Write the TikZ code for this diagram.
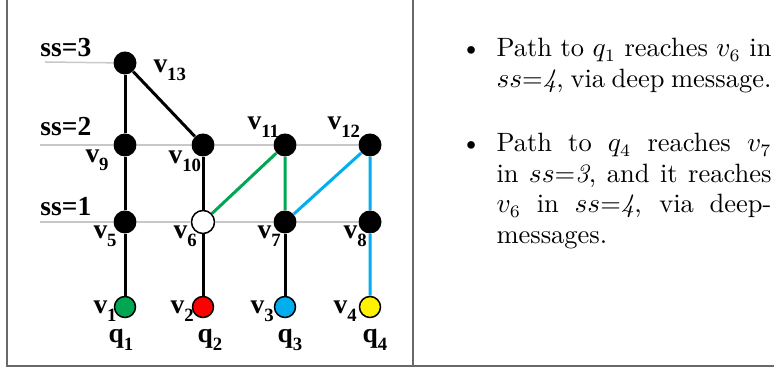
\documentclass[tikz,border=0pt]{standalone}
\usepackage{fontspec}
\newfontfamily\graphfont{Liberation Serif}
\definecolor{qgreen}{RGB}{0,166,81}
\definecolor{qred}{RGB}{255,0,0}
\definecolor{qcyan}{RGB}{0,174,239}
\definecolor{qyellow}{RGB}{255,242,0}
\definecolor{framegray}{RGB}{105,105,105}
\definecolor{levelgray}{RGB}{200,200,200}
\newcommand{\vsub}[2]{#1\raisebox{-3.2pt}{\fontsize{7.5}{8}\selectfont #2}}
\tikzset{
  vert/.style={circle, fill=black, inner sep=0pt, minimum size=9.2pt},
  leaf/.style={circle, draw=black, line width=0.6pt, inner sep=0pt, minimum size=8.4pt},
  lab/.style={inner sep=0pt, anchor=base west, font=\graphfont\bfseries\fontsize{11}{12}\selectfont},
  edge/.style={line width=1.2pt},
  level/.style={line width=0.6pt, levelgray},
  frame/.style={line width=0.8pt, framegray},
  itemtext/.style={inner sep=0pt, anchor=base west, text width=110pt, align=justify,
    font=\fontsize{10.6}{12.2}\selectfont}
}
\begin{document}
\begin{tikzpicture}[x=0.4pt,y=-0.4pt]
\useasboundingbox (0,0) rectangle (774,370);
% frame
\draw[frame] (7,0) -- (7,366) -- (774,366);
\draw[frame] (413,0) -- (413,366);

% vertices
\node[vert] (v13) at (125,63) {};
\node[vert] (v9)  at (125,145) {};
\node[vert] (v10) at (203,145) {};
\node[vert] (v11) at (285,145) {};
\node[vert] (v12) at (370,145) {};
\node[vert] (v5)  at (125,222) {};
\node[leaf, fill=white, minimum size=9.2pt] (v6) at (203,222) {};
\node[vert] (v7)  at (285,222) {};
\node[vert] (v8)  at (370,222) {};
\node[leaf, fill=qgreen]  (v1) at (125,307) {};
\node[leaf, fill=qred]    (v2) at (203,307) {};
\node[leaf, fill=qcyan]   (v3) at (285,307) {};
\node[leaf, fill=qyellow] (v4) at (370,307) {};

% levels
\coordinate (s3) at (45,62);
\coordinate (s2) at (40,145);
\coordinate (s1) at (40,222);
\draw[level] (s3) -- (v13);
\draw[level] (s2) -- (v9) -- (v10) -- (v11) -- (v12);
\draw[level] (s1) -- (v5) -- (v6) -- (v7) -- (v8);
\node[lab] (ss3) at (40,57) {ss=3};
\node[lab] (ss2) at (40,136) {ss=2};
\node[lab] (ss1) at (40,216) {ss=1};

% edges
\draw[edge] (v13) -- (v9);
\draw[edge] (v13) -- (v10);
\draw[edge] (v9) -- (v5);
\draw[edge] (v10) -- (v6);
\draw[edge] (v5) -- (v1);
\draw[edge] (v6) -- (v2);
\draw[edge] (v7) -- (v3);
\draw[edge, qgreen] (v6) -- (v11) -- (v7);
\draw[edge, qcyan] (v7) -- (v12) -- (v8) -- (v4);

% vertex labels
\node[lab] (l13) at (153,73)  {\vsub{v}{13}};
\node[lab] (l9)  at (85,163)  {\vsub{v}{9}};
\node[lab] (l10) at (168,164) {\vsub{v}{10}};
\node[lab] (l11) at (247,130) {\vsub{v}{11}};
\node[lab] (l12) at (327,130) {\vsub{v}{12}};
\node[lab] (l5)  at (93,239)  {\vsub{v}{5}};
\node[lab] (l6)  at (173,239) {\vsub{v}{6}};
\node[lab] (l7)  at (257,239) {\vsub{v}{7}};
\node[lab] (l8)  at (343,239) {\vsub{v}{8}};
\node[lab] (l1)  at (93,314)  {\vsub{v}{1}};
\node[lab] (l2)  at (170,314) {\vsub{v}{2}};
\node[lab] (l3)  at (250,314) {\vsub{v}{3}};
\node[lab] (l4)  at (333,314) {\vsub{v}{4}};
\node[lab] (q1)  at (108,343) {\vsub{q}{1}};
\node[lab] (q2)  at (197,343) {\vsub{q}{2}};
\node[lab] (q3)  at (277,343) {\vsub{q}{3}};
\node[lab] (q4)  at (362,343) {\vsub{q}{4}};

% notes
\node[itemtext] (item1) at (496,57) {\leavevmode\llap{\textbullet\hspace{6pt}}Path to $q_1$ reaches $v_6$ in $ss$=\textit{4}, via deep message.};
\node[itemtext] (item2) at (496,152) {\leavevmode\llap{\textbullet\hspace{6pt}}Path to $q_4$ reaches $v_7$ in $ss$=\textit{3}, and it reaches $v_6$ in $ss$=\textit{4}, via deep-messages.};
\end{tikzpicture}
\end{document}
